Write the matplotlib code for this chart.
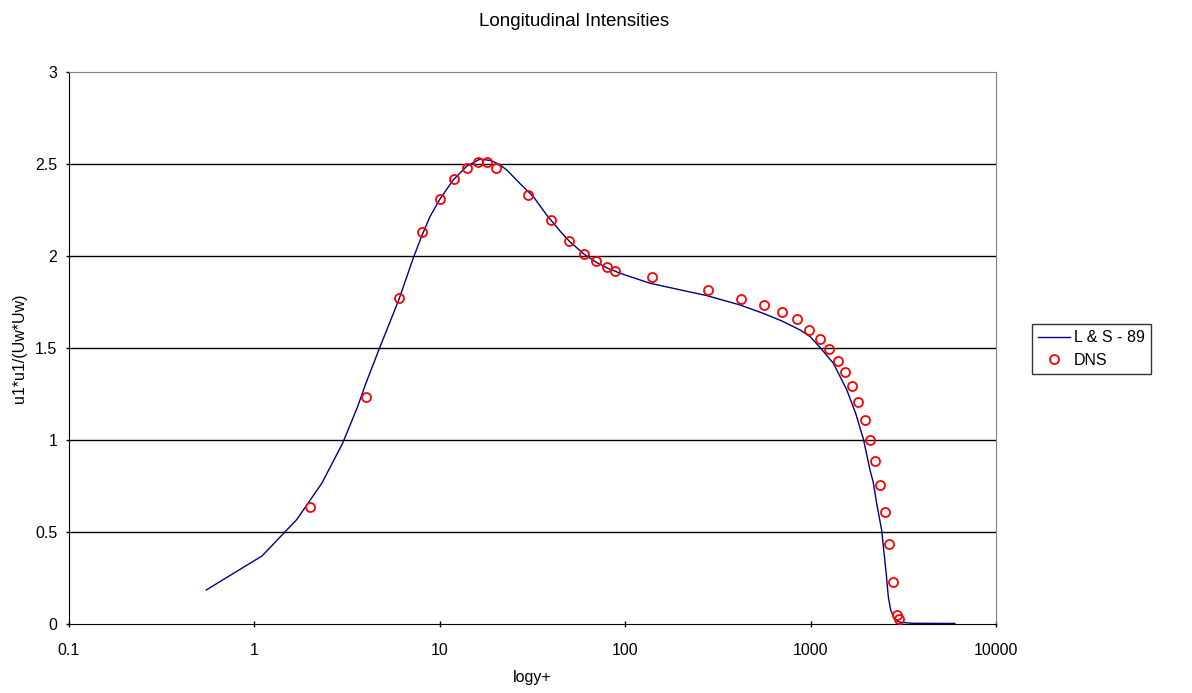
import numpy as np
import matplotlib.pyplot as plt

plt.rcParams['font.family'] = ['Liberation Sans', 'DejaVu Sans']

# L & S - 89 curve (y+, u1*u1/(Uw*Uw))
ls_y = [0.55, 1.1, 1.69, 2.31, 2.99, 3.6, 4.0, 4.75, 6.0, 7.2, 8.0, 8.85, 10.0, 11.8,
        14.0, 16.5, 19.0, 21.0, 23.0, 27.0, 32.0, 37.7, 45.0, 50.0, 60.0, 70.0, 80.0,
        94.0, 136.0, 200.0, 275.0, 416.0, 556.0, 700.0, 877.0, 993.0, 1115.0,
        1327.0, 1568.0, 1750.0, 1928.0, 2091.0, 2178.0, 2271.0, 2416.0, 2560.0,
        2625.0, 2703.0, 2853.0, 3035.0, 3500.0, 6000.0]
ls_u = [0.185, 0.37, 0.567, 0.765, 0.982, 1.18, 1.31, 1.504, 1.76, 1.99, 2.11, 2.214, 2.308, 2.413,
        2.489, 2.527, 2.518, 2.497, 2.467, 2.395, 2.322, 2.223, 2.13, 2.08, 2.01, 1.965, 1.935,
        1.906, 1.852, 1.815, 1.785, 1.734, 1.688, 1.647, 1.598, 1.562, 1.507,
        1.417, 1.272, 1.145, 1.004, 0.837, 0.77, 0.656, 0.511, 0.27,
        0.148, 0.076, 0.022, 0.01, 0.004, 0.003]

# DNS data
dns_y = [2, 4, 6, 8, 10, 12, 14, 16, 18, 20, 30, 40, 50, 60, 70, 80, 88, 140,
         280, 420, 560, 700, 840, 980, 1120, 1260, 1400, 1540, 1670, 1810,
         1960, 2090, 2230, 2360, 2510, 2640, 2790, 2920, 3010]
dns_u = [0.635, 1.234, 1.77, 2.13, 2.31, 2.42, 2.48, 2.51, 2.51, 2.48, 2.33, 2.196,
         2.08, 2.009, 1.973, 1.94, 1.918, 1.888, 1.813, 1.768, 1.734, 1.696,
         1.656, 1.60, 1.547, 1.494, 1.431, 1.368, 1.292, 1.207, 1.11, 0.998,
         0.884, 0.755, 0.607, 0.433, 0.228, 0.049, 0.029]

yticks = [0, 0.5, 1, 1.5, 2, 2.5, 3]
ytick_labels = ['0', '0.5', '1', '1.5', '2', '2.5', '3']
xticks = [0.1, 1, 10, 100, 1000, 10000]
xtick_labels = ['0.1', '1', '10', '100', '1000', '10000']

fig = plt.figure(figsize=(11.92, 6.93), dpi=100)
ax = fig.add_axes([69/1192, 1 - 624/693, (996-69)/1192, (624-72)/693])

ax.set_xscale('log')
ax.set_xlim(0.1, 10000)
ax.set_ylim(0, 3)

# horizontal gridlines
for yv in yticks[1:-1]:
    ax.axhline(yv, color='black', lw=1.0, zorder=1)

ax.plot(ls_y, ls_u, color='#000080', lw=1.0, label='L & S - 89', zorder=2)
ax.plot(dns_y, dns_u, 'o', mfc='none', mec='red', ms=6.5, mew=1.3,
        label='DNS', zorder=3, clip_on=False)

ax.set_xticks(xticks)
ax.set_xticklabels(xtick_labels)
ax.xaxis.set_minor_locator(plt.NullLocator())
ax.set_yticks(yticks)
ax.set_yticklabels(ytick_labels)
ax.tick_params(axis='x', direction='inout', length=5, width=1, labelsize=11.5, pad=11)
ax.tick_params(axis='y', direction='out', length=2.5, width=1, labelsize=11.5, pad=6)

for side in ['left', 'bottom']:
    ax.spines[side].set_color('black')
for side in ['top', 'right']:
    ax.spines[side].set_color('#808080')

ax.set_xlabel('logy+', fontsize=11.5, labelpad=9)
ax.set_ylabel('u1*u1/(Uw*Uw)', fontsize=11.5, labelpad=6)

fig.text(574.5/1192, 1 - 22/693, 'Longitudinal Intensities', ha='center', va='center', fontsize=13.5)

leg = ax.legend(loc='center left', bbox_to_anchor=(1032/1192, 1 - 349/693),
                bbox_transform=fig.transFigure, frameon=True, fancybox=False,
                fontsize=11.5, handlelength=2.0, handletextpad=0.2,
                borderpad=0.4, labelspacing=0.45, borderaxespad=0)
leg.get_frame().set_edgecolor('black')
leg.get_frame().set_linewidth(1.0)

fig.savefig('out.png', dpi=100)
